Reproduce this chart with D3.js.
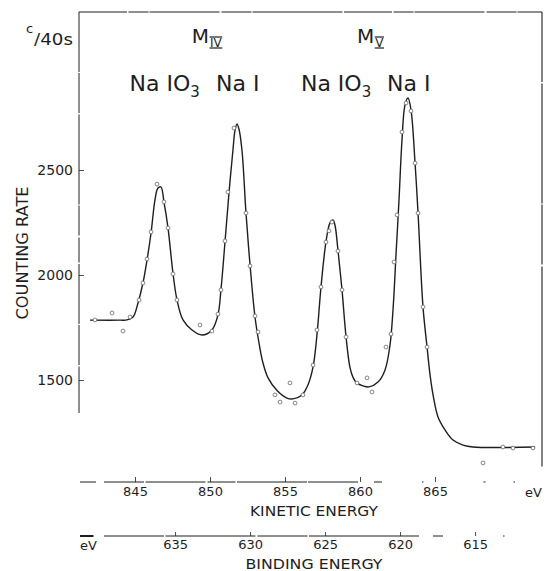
<!DOCTYPE html>
<html>
<head>
<meta charset="utf-8">
<script src="https://cdn.jsdelivr.net/npm/d3@7"></script>
<style>
  body { margin: 0; background: #fff; }
  svg { display: block; }
  text { font-family: "DejaVu Sans", "Liberation Sans", sans-serif; fill: #1e1e1e; }
</style>
</head>
<body>
<svg id="chart" width="548" height="571"></svg>
<script>
// Iodine 3d (M_IV / M_V) photoelectron spectrum of NaIO3 + NaI
// Smoothed trace: kinetic energy (eV) and counting rate (counts / 40 s)
const traceKE = [
  842.0, 844.0, 844.47, 844.87, 845.2, 845.53, 845.8, 846.07, 846.33, 846.53,
  846.73, 846.93, 847.2, 847.53, 847.8, 848.2, 848.8, 849.47, 850.13, 850.53,
  850.73, 851.0, 851.27, 851.53, 851.67, 851.8, 851.93, 852.13, 852.4, 852.67,
  853.0, 853.27, 853.5, 853.87, 854.47, 855.13, 855.53, 856.13, 856.53, 856.87,
  857.13, 857.4, 857.73, 858.0, 858.2, 858.33, 858.53, 858.8, 859.07, 859.33,
  859.55, 859.8, 860.2, 860.6, 861.2, 861.67, 862.0, 862.2, 862.4, 862.6,
  862.8, 863.0, 863.2, 863.4, 863.67, 863.87, 864.2, 864.47, 864.67, 864.87,
  865.2, 865.67, 866.2, 866.87, 867.53, 871.67
];
const traceCounts = [
  1785, 1785, 1786, 1800, 1867, 1962, 2071, 2200, 2357, 2414,
  2419, 2348, 2224, 2010, 1881, 1786, 1738, 1714, 1738, 1810,
  1929, 2157, 2395, 2595, 2690, 2719, 2695, 2595, 2295, 2048,
  1800, 1675, 1590, 1510, 1450, 1414, 1410, 1429, 1476, 1562,
  1714, 1943, 2157, 2248, 2262, 2238, 2119, 1929, 1705, 1560,
  1510, 1485, 1472, 1467, 1490, 1548, 1667, 1833, 2095, 2357,
  2643, 2810, 2843, 2786, 2533, 2295, 1848, 1657, 1524, 1429,
  1324, 1262, 1214, 1190, 1181, 1181
];

// Individual measured points
const pointKE = [
  842.33, 843.47, 844.2, 844.67, 845.27, 845.53, 845.8, 846.07, 846.47, 846.93,
  847.2, 847.53, 847.8, 849.33, 850.13, 850.53, 850.73, 851.0, 851.2, 851.6,
  852.4, 852.67, 853.0, 853.2, 854.33, 854.67, 855.33, 855.67, 856.2, 856.87,
  857.13, 857.4, 857.73, 857.93, 858.13, 858.53, 858.8, 859.07, 859.8, 860.47,
  860.8, 861.73, 862.07, 862.27, 862.47, 862.8, 863.07, 863.4, 863.67, 863.87,
  864.2, 864.47, 868.2, 869.53, 870.2, 871.53
];
const pointCounts = [
  1786, 1819, 1733, 1800, 1881, 1962, 2076, 2205, 2433, 2348,
  2224, 2005, 1881, 1762, 1733, 1814, 1929, 2162, 2395, 2700,
  2295, 2043, 1805, 1729, 1429, 1395, 1486, 1390, 1429, 1571,
  1738, 1943, 2157, 2210, 2252, 2114, 1929, 1705, 1486, 1510,
  1443, 1657, 1719, 2062, 2286, 2681, 2819, 2781, 2533, 2295,
  1848, 1657, 1105, 1181, 1176, 1176
];

const countTicks = [1500, 2000, 2500];
const kineticTicks = [845, 850, 855, 860, 865];
const bindingTicks = [635, 630, 625, 620, 615];
const excitationSum = 1482.67;           // kinetic + binding energy (eV)

// Peak annotations
const peakNames = ["Na IO", "Na I", "Na IO", "Na I"];
const peakSubs = ["3", "", "3", ""];
const peakKE = [846.7, 851.8, 858.13, 863.2];
const levelNames = ["IV", "V"];

const svg = d3.select("#chart");
const ink = "#1e1e1e";

const x = d3.scaleLinear().domain([845, 865]).range([135, 435]);
const y = d3.scaleLinear().domain([1500, 2500]).range([380, 170]);
const xb = d3.scaleLinear()
  .domain([excitationSum - 845, excitationSum - 865])
  .range([135, 435]);

// Frame and axis lines
const frame = svg.append("g").attr("stroke", ink).attr("fill", "none");
frame.append("line").attr("x1", 79).attr("x2", 542).attr("y1", 12).attr("y2", 12)
  .attr("stroke-width", 1).attr("stroke-dasharray", "48 1.5 20 1 70 2 30 1 90 1.5");
frame.append("line").attr("x1", 79).attr("x2", 79).attr("y1", 12).attr("y2", 413)
  .attr("stroke-width", 1).attr("stroke-dasharray", "60 1 40 1.5 90 1 30 2 25 1.5");
frame.append("line").attr("x1", 542).attr("x2", 542).attr("y1", 12).attr("y2", 482)
  .attr("stroke-width", 1.1).attr("stroke-dasharray", "70 1.5 120 1 60 2 200");
frame.append("line").attr("x1", 80).attr("x2", 542).attr("y1", 482).attr("y2", 482)
  .attr("stroke-width", 1).attr("stroke-dasharray", "16 8 40 1.5 60 2 28 1.5 70 1 50");
frame.append("line").attr("x1", 80).attr("x2", 548).attr("y1", 536).attr("y2", 536)
  .attr("stroke-width", 1).attr("stroke-dasharray", "14 10 60 1.5 90 2 50 1.5 110");
frame.append("line").attr("x1", 80).attr("x2", 93).attr("y1", 536).attr("y2", 536)
  .attr("stroke-width", 2);

const fmt = d3.format("d");

// Counting-rate axis
const yAxis = svg.append("g").attr("transform", "translate(79,0)")
  .call(d3.axisLeft(y).tickValues(countTicks).tickFormat(fmt)
    .tickSizeInner(-5).tickSizeOuter(0).tickPadding(6));
yAxis.select(".domain").remove();
yAxis.selectAll(".tick line").attr("stroke", ink).attr("stroke-width", 0.8);
yAxis.selectAll(".tick text").attr("font-size", 14).attr("fill", ink)
  .attr("font-family", "\"DejaVu Sans\", sans-serif");

// Kinetic-energy axis
const kAxis = svg.append("g").attr("transform", "translate(0,482)")
  .call(d3.axisBottom(x).tickValues(kineticTicks).tickFormat(fmt)
    .tickSizeInner(-5).tickSizeOuter(0).tickPadding(5));
kAxis.select(".domain").remove();
kAxis.selectAll(".tick line").attr("stroke", ink).attr("stroke-width", 0.8);
kAxis.selectAll(".tick text").attr("font-size", 13).attr("fill", ink)
  .attr("font-family", "\"DejaVu Sans\", sans-serif");

// Binding-energy axis
const bAxis = svg.append("g").attr("transform", "translate(0,536)")
  .call(d3.axisBottom(xb).tickValues(bindingTicks).tickFormat(fmt)
    .tickSizeInner(-4).tickSizeOuter(0).tickPadding(4));
bAxis.select(".domain").remove();
bAxis.selectAll(".tick line").attr("stroke", ink).attr("stroke-width", 0.8);
bAxis.selectAll(".tick text").attr("font-size", 13).attr("fill", ink)
  .attr("font-family", "\"DejaVu Sans\", sans-serif");

// Axis titles and units
svg.append("text").attr("transform", "translate(28,253) rotate(-90)")
  .attr("text-anchor", "middle").attr("font-size", 15)
  .attr("textLength", 133).attr("lengthAdjust", "spacingAndGlyphs")
  .text("COUNTING RATE");
svg.append("text").attr("x", 314).attr("y", 516).attr("text-anchor", "middle")
  .attr("font-size", 14).attr("textLength", 128).attr("lengthAdjust", "spacingAndGlyphs")
  .text("KINETIC ENERGY");
svg.append("text").attr("x", 314).attr("y", 569).attr("text-anchor", "middle")
  .attr("font-size", 14).attr("textLength", 137).attr("lengthAdjust", "spacingAndGlyphs")
  .text("BINDING ENERGY");
svg.append("text").attr("x", 542).attr("y", 497).attr("text-anchor", "end")
  .attr("font-size", 13).text("eV");
svg.append("text").attr("x", 80).attr("y", 550).attr("font-size", 13).text("eV");
svg.append("text").attr("x", 26).attr("y", 33).attr("font-size", 13).text("c");
svg.append("text").attr("x", 34).attr("y", 45).attr("font-size", 15)
  .attr("textLength", 39).attr("lengthAdjust", "spacingAndGlyphs").text("/40s");

// Spectrum trace
const traceData = traceKE.map((k, i) => [k, traceCounts[i]]);
const line = d3.line().x(d => x(d[0])).y(d => y(d[1])).curve(d3.curveCatmullRom.alpha(0.5));
svg.append("path").datum(traceData).attr("d", line)
  .attr("fill", "none").attr("stroke", ink).attr("stroke-width", 1.4)
  .attr("stroke-linejoin", "round");

// Measured points
svg.append("g").selectAll("circle")
  .data(pointKE.map((k, i) => [k, pointCounts[i]]))
  .join("circle")
  .attr("cx", d => x(d[0])).attr("cy", d => y(d[1])).attr("r", 1.9)
  .attr("fill", "#fff").attr("stroke", "#666").attr("stroke-width", 0.8);

// Peak labels
peakNames.forEach((name, i) => {
  const start = x(peakKE[i]) + (peakSubs[i] ? -31 : -21);
  const t = svg.append("text").attr("x", start).attr("y", 91).attr("font-size", 22);
  t.append("tspan").text(name);
  if (peakSubs[i]) t.append("tspan").attr("font-size", 15).attr("dy", 6).text(peakSubs[i]);
});

// Spin-orbit level labels (M with barred Roman numeral)
levelNames.forEach((lv, j) => {
  const mid = (peakKE[2 * j] + peakKE[2 * j + 1]) / 2;
  const mx = x(mid) + (j === 0 ? -7 : -13);
  const m = svg.append("text").attr("x", mx).attr("y", 43).attr("font-size", 20).text("M");
  const mw = m.node().getComputedTextLength();
  const s = svg.append("text").attr("x", mx + mw + 1).attr("y", 47)
    .attr("font-size", 12).text(lv);
  const sw = s.node().getComputedTextLength();
  [37, 48].forEach(yy => {
    svg.append("line").attr("x1", mx + mw + 0.5).attr("x2", mx + mw + 1.5 + sw)
      .attr("y1", yy).attr("y2", yy).attr("stroke", ink).attr("stroke-width", 1.2);
  });
});
</script>
</body>
</html>
